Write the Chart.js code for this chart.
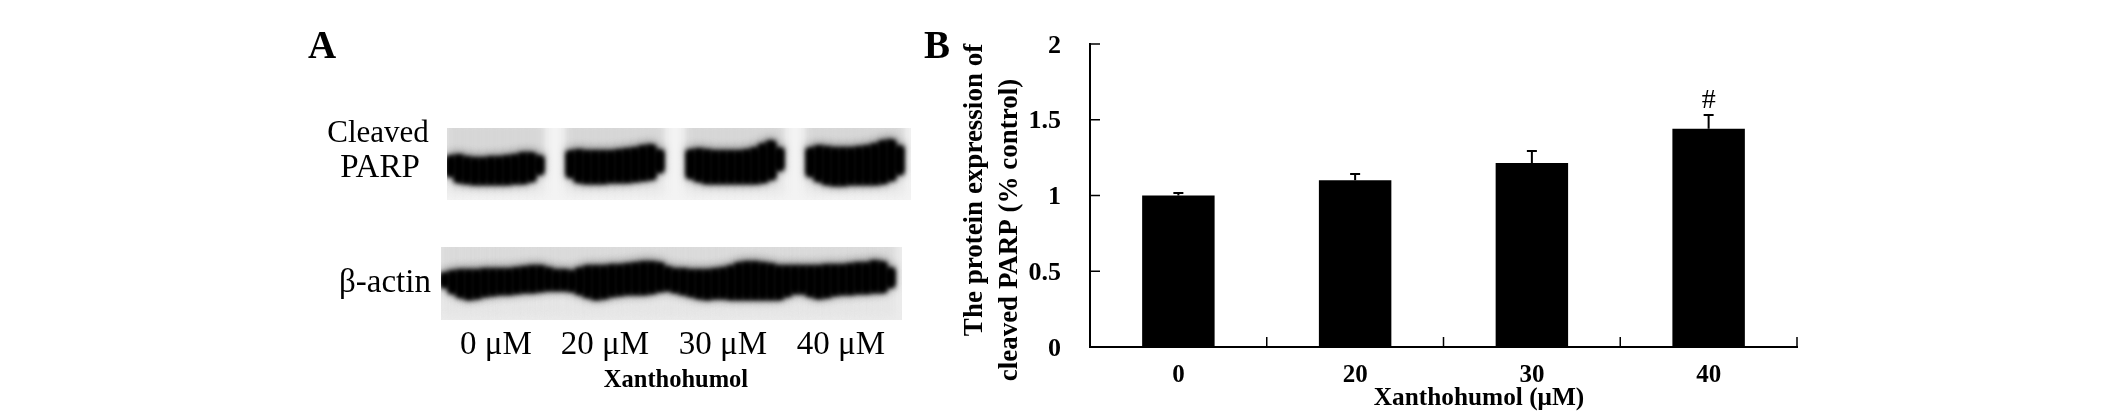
<!DOCTYPE html>
<html>
<head>
<meta charset="utf-8">
<script src="https://cdn.jsdelivr.net/npm/chart.js@4/dist/chart.umd.min.js"></script>
<style>
  body { margin: 0; background: #fff; }
  canvas { position: absolute; }
  #main { left: 0; top: 0; }
  #parp { left: 447px; top: 128px; }
  #actin { left: 441px; top: 247px; }
</style>
</head>
<body>
<canvas id="main" width="2126" height="412"></canvas>
<canvas id="parp" width="464" height="72"></canvas>
<canvas id="actin" width="461" height="73"></canvas>
<script>
// panel B
const doses = ['0', '20', '30', '40'];
const expression = [1.0, 1.10, 1.215, 1.44];
const errorTops = [1.017, 1.142, 1.294, 1.531];
const yMax = 2;
const yStep = 0.5;

// panel A, band outline per 8px column, height above the bottom of each strip
const parpHigh = [42,43,41,40,40,41,41,42,43,45,45,42,null,null,null,47,48,47,47,47,47,48,49,50,52,53,48,null,null,null,48,49,48,47,47,47,47,48,50,54,57,50,null,null,null,50,52,51,50,50,50,51,52,54,57,58,52,null];
const parpLow = [26,20,19,18,18,18,18,18,19,19,21,28,null,null,null,25,20,19,19,19,20,20,20,21,22,23,30,null,null,null,24,21,19,19,19,19,19,19,19,20,23,32,null,null,null,26,21,18,17,17,18,18,18,18,19,22,28,null];
const actinHigh = [45,47,48,48,48,49,49,49,49,50,51,52,52,50,48,48,47,50,52,52,52,53,53,54,55,56,56,55,51,49,49,48,48,48,49,50,52,55,56,56,55,54,52,52,52,52,52,52,53,53,53,54,55,55,57,56,50,null];
const actinLow = [35,29,25,23,24,26,27,28,28,29,30,30,31,32,32,32,31,28,25,23,24,26,27,28,28,28,29,31,32,30,28,26,24,23,24,24,23,23,23,23,23,23,23,26,29,29,26,24,25,27,28,28,29,29,30,30,35,null];

const labels = [
  { text: 'A', x: 322, y: 58, font: 'bold 39px "Liberation Serif"' },
  { text: 'B', x: 937, y: 58, font: 'bold 39px "Liberation Serif"' },
  { text: 'Cleaved', x: 378, y: 142, font: '31px "Liberation Serif"' },
  { text: 'PARP', x: 380, y: 177, font: '33px "Liberation Serif"' },
  { text: 'β-actin', x: 385, y: 292, font: '33px "Liberation Serif"' },
  { text: '0 μM', x: 496, y: 354, font: '33px "Liberation Serif"' },
  { text: '20 μM', x: 605, y: 354, font: '33px "Liberation Serif"' },
  { text: '30 μM', x: 723, y: 354, font: '33px "Liberation Serif"' },
  { text: '40 μM', x: 841, y: 354, font: '33px "Liberation Serif"' },
  { text: 'Xanthohumol', x: 676, y: 387, font: 'bold 24.5px "Liberation Serif"' },
  { text: 'Xanthohumol (μM)', x: 1479, y: 405, font: 'bold 25.3px "Liberation Serif"' },
  { text: 'The protein expression of', x: 982, y: 190, rot: true, font: 'bold 27px "Liberation Serif"' },
  { text: 'cleaved PARP (% control)', x: 1017, y: 230, rot: true, font: 'bold 27px "Liberation Serif"' }
];

const textPlugin = {
  id: 'textPlugin',
  afterDraw(chart) {
    const c = chart.ctx;
    c.save();
    c.fillStyle = '#000';
    c.textAlign = 'center';
    c.textBaseline = 'alphabetic';
    labels.forEach(l => {
      c.save();
      c.font = l.font;
      c.translate(l.x, l.y);
      if (l.rot) c.rotate(-Math.PI / 2);
      c.fillText(l.text, 0, 0);
      c.restore();
    });
    c.restore();
  }
};

// ticks point inwards, error bars only go up
const marksPlugin = {
  id: 'marksPlugin',
  afterDatasetsDraw(chart) {
    const c = chart.ctx, x = chart.scales.x, y = chart.scales.y;
    c.save();
    c.strokeStyle = '#000';
    c.fillStyle = '#000';
    c.lineWidth = 1.5;
    c.beginPath();
    for (let v = 0; v <= yMax; v += yStep) {
      const py = y.getPixelForValue(v);
      c.moveTo(x.left, py);
      c.lineTo(x.left + 10, py);
    }
    for (let i = 1; i <= doses.length; i++) {
      const px = x.left + i * (x.right - x.left) / doses.length;
      c.moveTo(px, y.bottom);
      c.lineTo(px, y.bottom - 10);
    }
    c.stroke();
    c.lineWidth = 2;
    c.beginPath();
    errorTops.forEach((t, i) => {
      const px = x.getPixelForValue(i);
      c.moveTo(px, y.getPixelForValue(expression[i]));
      c.lineTo(px, y.getPixelForValue(t));
      c.moveTo(px - 5, y.getPixelForValue(t));
      c.lineTo(px + 5, y.getPixelForValue(t));
    });
    c.stroke();
    c.font = '28px "Liberation Serif"';
    c.textAlign = 'center';
    c.fillText('#', x.getPixelForValue(3), y.getPixelForValue(errorTops[3]) - 7);
    c.restore();
  }
};

new Chart(document.getElementById('main'), {
  type: 'bar',
  data: {
    labels: doses,
    datasets: [{
      data: expression,
      backgroundColor: '#000',
      barPercentage: 0.41,
      categoryPercentage: 1
    }]
  },
  options: {
    responsive: false,
    animation: false,
    layout: { padding: { top: 44, right: 329 } },
    plugins: { legend: { display: false }, tooltip: { enabled: false } },
    scales: {
      x: {
        afterFit: s => { s.height = 65; },
        grid: { display: false },
        border: { color: '#000', width: 2 },
        ticks: {
          color: '#000',
          padding: 6,
          maxRotation: 0,
          font: { family: 'Liberation Serif', size: 25, weight: 'bold' }
        }
      },
      y: {
        min: 0,
        max: yMax,
        afterFit: s => { s.width = 1090; },
        grid: { display: false },
        border: { color: '#000', width: 2 },
        ticks: {
          stepSize: yStep,
          color: '#000',
          padding: 21,
          labelOffset: 2,
          callback: v => String(v),
          font: { family: 'Liberation Serif', size: 26, weight: 'bold' }
        }
      }
    }
  },
  plugins: [textPlugin, marksPlugin]
});

// strip background plus per dataset blur, so the column bars melt into one band
const blotPlugin = {
  id: 'blotPlugin',
  beforeDatasetsDraw(chart, args, opts) {
    const a = chart.chartArea, c = chart.ctx;
    c.save();
    c.fillStyle = opts.paper;
    c.fillRect(a.left, a.top, a.right - a.left, a.bottom - a.top);
    c.restore();
  },
  beforeDatasetDraw(chart, args) {
    chart.ctx.filter = 'blur(' + chart.data.datasets[args.index].blur + 'px)';
  },
  afterDatasetDraw(chart) {
    chart.ctx.filter = 'none';
  }
};

function drawBlot(id, high, low, top, floor, paper, smearColor, floorColor) {
  const cols = high.map((v, i) => i);
  const bar = { grouped: false, barPercentage: 1, categoryPercentage: 1, borderWidth: 0 };
  new Chart(document.getElementById(id), {
    type: 'bar',
    data: {
      labels: cols,
      datasets: [
        { ...bar, blur: 2.6, backgroundColor: '#000', data: high.map((v, i) => v == null ? null : [low[i] - 2, v + 1.5]) },
        { ...bar, blur: 2.6, backgroundColor: '#000', data: high.map((v, i) => v == null ? null : [low[i] - 1, v + 0.5]) },
        { ...bar, blur: 4, backgroundColor: '#666', data: high.map((v, i) => v == null ? null : [low[i] - 3, v + 4]) },
        { ...bar, blur: 5, backgroundColor: smearColor, data: high.map(v => v == null ? null : [v - 4, top + 8]) },
        { ...bar, blur: 5, backgroundColor: floorColor, data: low.map(v => v == null ? null : [floor, v + 4]) }
      ]
    },
    options: {
      responsive: false,
      animation: false,
      layout: { padding: 0 },
      plugins: { legend: { display: false }, tooltip: { enabled: false }, blotPlugin: { paper } },
      scales: {
        x: { display: false },
        y: { display: false, min: 0, max: top }
      }
    },
    plugins: [blotPlugin]
  });
}

drawBlot('parp', parpHigh, parpLow, 72, 7, '#f3f3f3', '#cfcfcf', '#e6e6e6');
drawBlot('actin', actinHigh, actinLow, 73, 5, '#ececec', '#d6d6d6', '#e4e4e4');
</script>
</body>
</html>
